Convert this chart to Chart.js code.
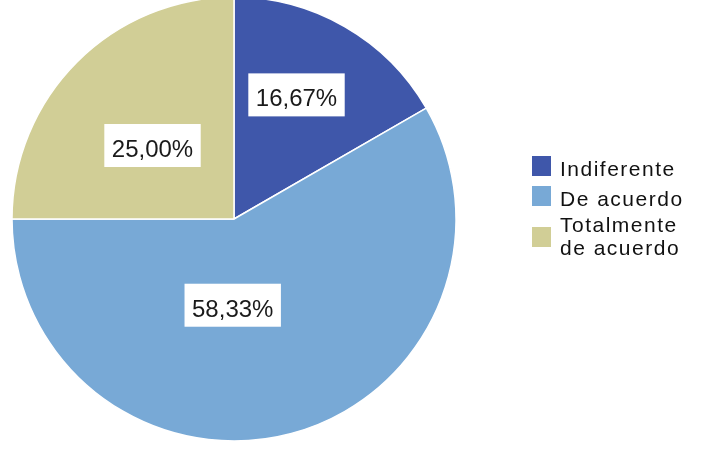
<!DOCTYPE html>
<html>
<head>
<meta charset="utf-8">
<script src="https://cdn.jsdelivr.net/npm/chart.js@4/dist/chart.umd.min.js"></script>
<style>
  html, body { margin: 0; padding: 0; background: #fff; }
  body { width: 713px; height: 474px; position: relative; overflow: hidden; }
  #wrap { position: absolute; left: 0; top: -4px; width: 713px; height: 480px; }
  .lg { position: absolute; left: 0; top: 0; font-family: "Liberation Sans", Arial, sans-serif; font-size: 21px; letter-spacing: 1.5px; color: #111; }
  .sw { position: absolute; width: 19px; height: 20px; }
  .tx { position: absolute; left: 560px; line-height: 23px; white-space: nowrap; }
</style>
</head>
<body>
<div id="wrap"><canvas id="c"></canvas></div>
<div id="legend" class="lg"></div>
<script>
const categories = ["Indiferente", "De acuerdo", "Totalmente de acuerdo"];
const legendLines = [["Indiferente"], ["De acuerdo"], ["Totalmente", "de acuerdo"]];
const values = [16.67, 58.33, 25.00];
const labelTexts = ["16,67%", "58,33%", "25,00%"];
const colors = ["#3f57aa", "#78a9d6", "#d1ce96"];

// label offsets relative to each slice's midpoint (px)
const labelOffsets = [[7, -25], [-30, -18], [-3, 8]];

const labelPlugin = {
  id: 'boxLabels',
  afterDatasetsDraw(chart) {
    const ctx = chart.ctx;
    const meta = chart.getDatasetMeta(0);
    ctx.save();
    ctx.font = '24px "Liberation Sans", Arial, sans-serif';
    meta.data.forEach((arc, i) => {
      const p = arc.tooltipPosition();
      const cx = p.x + labelOffsets[i][0];
      const cy = p.y + labelOffsets[i][1];
      const txt = labelTexts[i];
      const w = ctx.measureText(txt).width;
      const bw = w + 15, bh = 43;
      ctx.fillStyle = '#ffffff';
      ctx.fillRect(cx - bw / 2, cy - 3 - bh / 2, bw, bh);
      ctx.fillStyle = '#1a1a1a';
      ctx.textAlign = 'center';
      ctx.textBaseline = 'alphabetic';
      ctx.fillText(txt, cx, cy + 8.6);
    });
    ctx.restore();
  }
};

new Chart(document.getElementById('c'), {
  type: 'pie',
  data: {
    labels: categories,
    datasets: [{
      data: values,
      backgroundColor: colors,
      borderColor: '#ffffff',
      borderWidth: 1.5
    }]
  },
  options: {
    responsive: true,
    maintainAspectRatio: false,
    animation: false,
    radius: 222,
    layout: { padding: { left: 12, right: 257, top: 1, bottom: 35 } },
    plugins: {
      legend: { display: false },
      tooltip: { enabled: false }
    }
  },
  plugins: [labelPlugin]
});

// legend
const leg = document.getElementById('legend');
const swTops = [156, 186, 227];
const txTops = [157.2, 187.2, 213.2];
legendLines.forEach((lines, i) => {
  const sw = document.createElement('div');
  sw.className = 'sw';
  sw.style.left = '532px';
  sw.style.top = swTops[i] + 'px';
  sw.style.background = colors[i];
  leg.appendChild(sw);
  const tx = document.createElement('div');
  tx.className = 'tx';
  tx.style.top = txTops[i] + 'px';
  tx.innerHTML = lines.join('<br>');
  leg.appendChild(tx);
});
</script>
</body>
</html>
